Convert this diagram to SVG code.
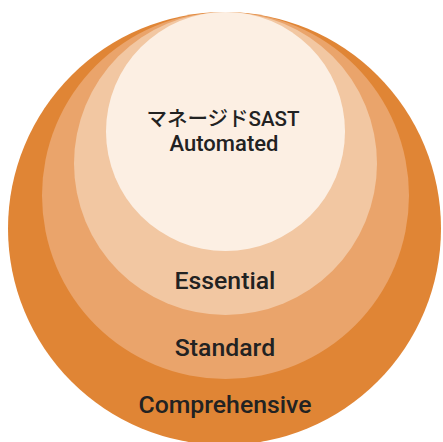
<svg xmlns="http://www.w3.org/2000/svg" width="443" height="442" viewBox="0 0 443 442">
<style>
text{font-family:Roboto,"Noto Sans CJK JP","Liberation Sans",sans-serif;font-weight:500;fill:#222222;text-anchor:middle}
.j{font-size:20.5px}
.s{font-size:22px}
.l{font-size:24.8px}
</style>
<rect width="443" height="442" fill="#ffffff"/>
<g id="comprehensive">
<circle cx="224.5" cy="228.5" r="216.5" fill="#e08535"/>
</g>
<g id="standard">
<circle cx="225.5" cy="195.5" r="183.5" fill="#eaa46b"/>
</g>
<g id="essential">
<circle cx="225.5" cy="163.5" r="151.5" fill="#f2c7a2"/>
</g>
<g id="automated">
<circle cx="225.5" cy="131.5" r="119.5" fill="#fcefe3"/>
</g>
<g id="labels">
<text class="j" x="223" y="126">マネージドSAST</text>
<text class="s" x="224" y="151">Automated</text>
<text class="l" x="225" y="289">Essential</text>
<text class="l" x="225" y="356">Standard</text>
<text class="l" x="225" y="413">Comprehensive</text>
</g>
<g id="connectors"></g>
</svg>
